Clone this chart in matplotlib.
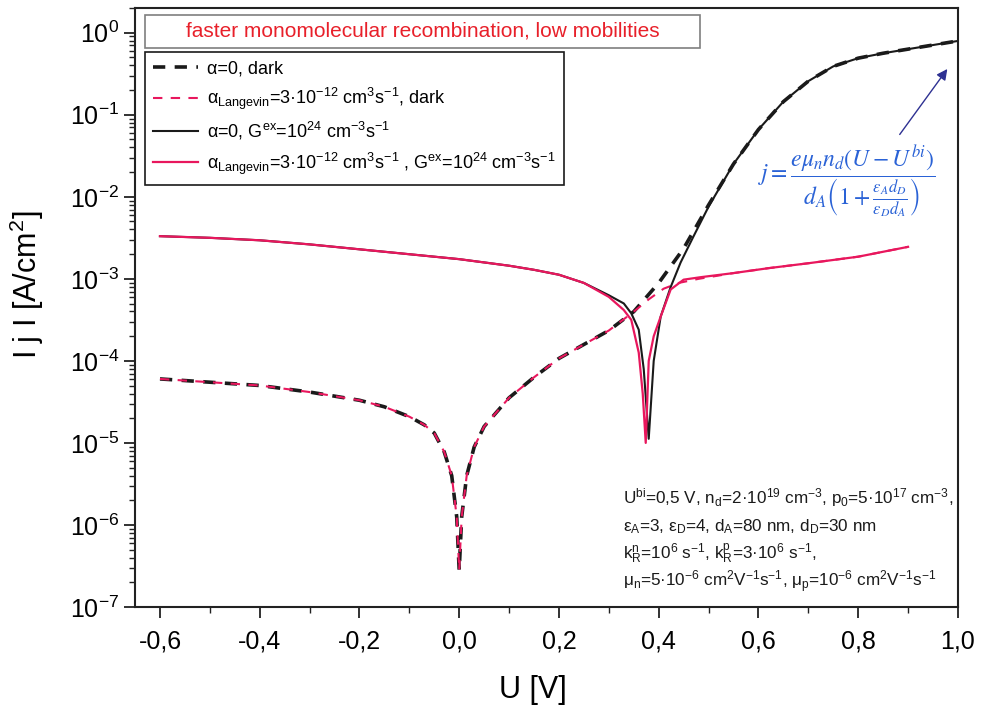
import matplotlib
matplotlib.use('Agg')
import numpy as np
import matplotlib.pyplot as plt
from matplotlib.patches import Rectangle
from matplotlib.ticker import FuncFormatter, MultipleLocator, LogLocator, LogFormatterMathtext

plt.rcParams['font.family'] = ['Liberation Sans', 'DejaVu Sans']
plt.rcParams['mathtext.fontset'] = 'custom'
plt.rcParams['mathtext.rm'] = 'Liberation Sans'
plt.rcParams['mathtext.it'] = 'Liberation Sans:italic'
plt.rcParams['mathtext.bf'] = 'Liberation Sans:bold'

# --- data (log10 of |j| in A/cm^2) ---
u_dark = [-0.6, -0.5, -0.4, -0.3, -0.2, -0.15, -0.1, -0.07, -0.05, -0.03, -0.015, -0.005, 0.0,
          0.005, 0.015, 0.03, 0.05, 0.1, 0.15, 0.2, 0.25, 0.3, 0.35, 0.4, 0.45, 0.5, 0.55, 0.6,
          0.65, 0.7, 0.75, 0.8, 0.85, 0.9, 0.95, 1.0]
logj_dark = [-4.22, -4.26, -4.30, -4.38, -4.48, -4.56, -4.68, -4.78, -4.88, -5.11, -5.4, -5.9, -6.55,
             -5.9, -5.4, -5.05, -4.80, -4.45, -4.20, -3.97, -3.80, -3.63, -3.40, -3.05, -2.63, -2.10, -1.60, -1.18,
             -0.84, -0.59, -0.41, -0.31, -0.25, -0.20, -0.15, -0.10]

u_dark_lang = [-0.6, -0.5, -0.4, -0.3, -0.2, -0.15, -0.1, -0.07, -0.05, -0.03, -0.015, -0.005, 0.0,
               0.005, 0.015, 0.03, 0.05, 0.1, 0.15, 0.2, 0.25, 0.3, 0.35, 0.38, 0.41, 0.44, 0.48, 0.55,
               0.62, 0.7, 0.75, 0.8, 0.85, 0.9]
logj_dark_lang = [-4.22, -4.26, -4.30, -4.38, -4.48, -4.56, -4.68, -4.78, -4.88, -5.11, -5.4, -5.9, -6.55,
                  -5.9, -5.4, -5.05, -4.80, -4.45, -4.20, -3.97, -3.80, -3.63, -3.40, -3.25, -3.12, -3.05, -3.0, -2.93,
                  -2.87, -2.81, -2.77, -2.73, -2.67, -2.61]

u_light = [-0.6, -0.5, -0.4, -0.3, -0.2, -0.1, 0.0, 0.1, 0.15, 0.2, 0.25, 0.3, 0.33, 0.345, 0.36,
           0.37, 0.38, 0.39, 0.404, 0.424, 0.444, 0.47, 0.5, 0.55, 0.6, 0.65, 0.7, 0.75, 0.8, 0.85,
           0.9, 0.95, 1.0]
logj_light = [-2.48, -2.50, -2.53, -2.58, -2.64, -2.70, -2.76, -2.84, -2.89, -2.95, -3.05, -3.20, -3.30, -3.42, -3.62,
              -4.1, -4.95, -4.0, -3.46, -3.10, -2.80, -2.48, -2.12, -1.60, -1.18, -0.84, -0.59, -0.41, -0.31, -0.25,
              -0.20, -0.15, -0.10]

u_light_lang = [-0.6, -0.5, -0.4, -0.3, -0.2, -0.1, 0.0, 0.1, 0.15, 0.2, 0.25, 0.3, 0.33, 0.345, 0.36,
                0.368, 0.374, 0.38, 0.39, 0.404, 0.424, 0.45, 0.484, 0.55, 0.62, 0.7, 0.75, 0.8, 0.85, 0.9]
logj_light_lang = [-2.48, -2.50, -2.53, -2.58, -2.64, -2.70, -2.76, -2.84, -2.89, -2.95, -3.05, -3.22, -3.38, -3.50, -3.90,
                   -4.4, -5.0, -4.0, -3.70, -3.46, -3.13, -3.01, -2.98, -2.93, -2.87, -2.81, -2.77, -2.73, -2.67, -2.61]

lbl_dark = r'α=0, dark'
lbl_dark_lang = r'α$_{\mathrm{Langevin}}$=3·10$^{-12}$ cm$^{3}$s$^{-1}$, dark'
lbl_light = r'α=0, G$^{\mathrm{ex}}$=10$^{24}$ cm$^{-3}$s$^{-1}$'
lbl_light_lang = r'α$_{\mathrm{Langevin}}$=3·10$^{-12}$ cm$^{3}$s$^{-1}$ , G$^{\mathrm{ex}}$=10$^{24}$ cm$^{-3}$s$^{-1}$'

params = [
    r'U$^{\mathrm{bi}}$=0,5 V, n$_{\mathrm{d}}$=2·10$^{19}$ cm$^{-3}$, p$_{0}$=5·10$^{17}$ cm$^{-3}$,',
    r'ε$_{\mathrm{A}}$=3, ε$_{\mathrm{D}}$=4, d$_{\mathrm{A}}$=80 nm, d$_{\mathrm{D}}$=30 nm',
    r'k$_{\mathrm{R}}^{\mathrm{n}}$=10$^{6}$ s$^{-1}$, k$_{\mathrm{R}}^{\mathrm{p}}$=3·10$^{6}$ s$^{-1}$,',
    r'μ$_{\mathrm{n}}$=5·10$^{-6}$ cm$^{2}$V$^{-1}$s$^{-1}$, μ$_{\mathrm{p}}$=10$^{-6}$ cm$^{2}$V$^{-1}$s$^{-1}$',
]

RED = '#e8175d'

fig = plt.figure(figsize=(9.82, 7.11), dpi=100)
ax = fig.add_axes([0.1375, 0.1463, 0.838, 0.8424])

ax.plot(u_dark, 10 ** np.array(logj_dark), color='#1a1a1a', lw=2.6, ls=(0, (3.4, 2.6)), label=lbl_dark)
ax.plot(u_dark_lang, 10 ** np.array(logj_dark_lang), color=RED, lw=1.5, ls=(0, (4.5, 4.0)), label=lbl_dark_lang)
ax.plot(u_light, 10 ** np.array(logj_light), color='#1a1a1a', lw=1.5, label=lbl_light)
ax.plot(u_light_lang, 10 ** np.array(logj_light_lang), color=RED, lw=1.6, label=lbl_light_lang)

ax.set_yscale('log')
ax.set_xlim(-0.65, 1.0)
ax.set_ylim(1e-7, 2.0)

ax.xaxis.set_major_locator(MultipleLocator(0.2))
ax.xaxis.set_minor_locator(MultipleLocator(0.1))
ax.xaxis.set_major_formatter(FuncFormatter(lambda v, p: f'{v:.1f}'.replace('.', ',').replace('-0,0', '0,0')))
ax.yaxis.set_major_locator(LogLocator(base=10, numticks=20))
ax.yaxis.set_minor_locator(LogLocator(base=10, subs=np.arange(2, 10), numticks=20))
ax.yaxis.set_major_formatter(LogFormatterMathtext())

ax.tick_params(which='major', direction='out', length=8, width=1.3, labelsize=18, color='#222222')
ax.tick_params(which='minor', direction='out', length=4, width=1.0, color='#222222')
ax.tick_params(axis='x', pad=8)
for s in ax.spines.values():
    s.set_linewidth(1.5)
    s.set_color('#222222')

ax.set_xlabel('U [V]', fontsize=22)
ax.set_ylabel(r'I j I [A/cm$^{2}$]', fontsize=22)
ax.xaxis.set_label_coords(0.484, -0.113)
ax.yaxis.set_label_coords(-0.108, 0.538)

# title box
ax.add_patch(Rectangle((0.012, 0.933), 0.675, 0.055, transform=ax.transAxes,
                       facecolor='white', edgecolor='#7f7f7f', lw=1.2, zorder=5))
ax.text(0.35, 0.961, 'faster monomolecular recombination, low mobilities', transform=ax.transAxes,
        ha='center', va='center', fontsize=15, color='#e8202a', zorder=6)

leg = ax.legend(loc='upper left', bbox_to_anchor=(0.012, 0.926), fontsize=13, frameon=True,
                fancybox=False, edgecolor='#1a1a1a', framealpha=1, handlelength=2.5,
                handletextpad=0.5, labelspacing=0.45, borderpad=0.45, borderaxespad=0)
leg.get_frame().set_linewidth(1.2)

# formula and arrow
ax.text(0.776, 0.015, r'$j=\dfrac{e\mu_n n_d(U-U^{bi})}{d_A\left(1+\frac{\varepsilon_A d_D}{\varepsilon_D d_A}\right)}$',
        fontsize=17, color='#2a62d6', ha='center', va='center', math_fontfamily='stix')
ax.annotate('', xy=(0.982, 0.385), xytext=(0.88, 0.054),
            arrowprops=dict(arrowstyle='-|>', color='#2e3192', lw=1.0, mutation_scale=16))

baselines = [0.1736, 0.127, 0.0801, 0.0334]
for line, yb in zip(params, baselines):
    ax.text(0.593, yb, line, transform=ax.transAxes, fontsize=12.3, ha='left', va='baseline', color='#1a1a1a')

fig.savefig('out.png', dpi=100)
